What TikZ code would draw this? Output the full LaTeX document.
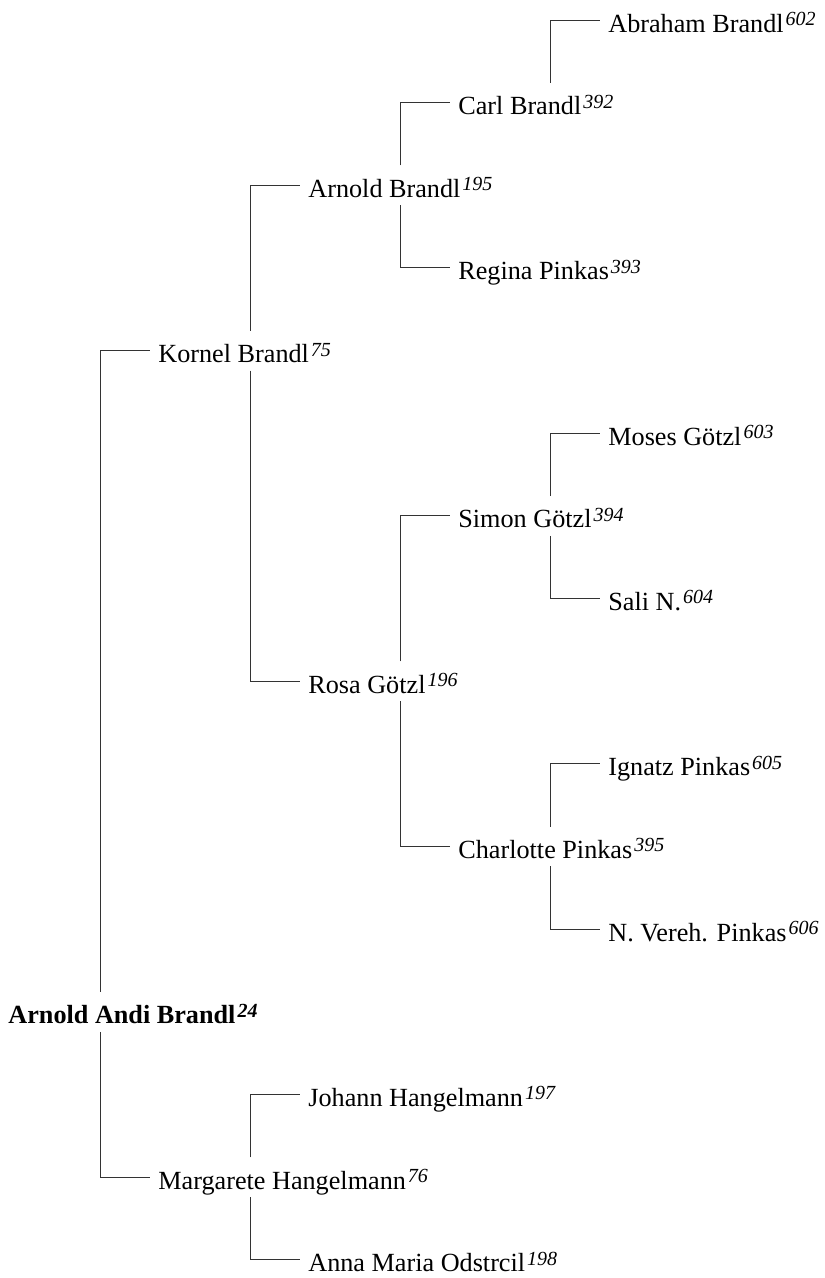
\documentclass[tikz,border=0pt]{standalone}
\usepackage{fontspec}
\setmainfont{Liberation Serif}
\newcommand{\pnum}[1]{\kern1pt\raisebox{3.3pt}{\fontsize{10}{10}\selectfont\itshape #1}}

\begin{document}
\begin{tikzpicture}[x=75pt, y=-41.33pt]
\useasboundingbox (0,-0.242) rectangle (5.5,15.22);

\tikzset{every node/.style={anchor=west, inner xsep=4pt, inner ysep=0pt, text height=15.75pt, text depth=3.75pt, font=\fontsize{13.1}{16}\selectfont}}
\node (p24) at (0,12) {\bfseries Arnold Andi Brandl\pnum{24}};
\node (p75) at (1,4) {Kornel Brandl\pnum{75}};
\node (p76) at (1,14) {Margarete Hangelmann\pnum{76}};
\node (p195) at (2,2) {Arnold Brandl\pnum{195}};
\node (p196) at (2,8) {Rosa Götzl\pnum{196}};
\node (p197) at (2,13) {Johann Hangelmann\pnum{197}};
\node (p198) at (2,15) {Anna Maria Odstrcil\pnum{198}};
\node (p392) at (3,1) {Carl Brandl\pnum{392}};
\node (p393) at (3,3) {Regina Pinkas\pnum{393}};
\node (p394) at (3,6) {Simon Götzl\pnum{394}};
\node (p395) at (3,10) {Charlotte Pinkas\pnum{395}};
\node (p602) at (4,0) {Abraham Brandl\pnum{602}};
\node (p603) at (4,5) {Moses Götzl\pnum{603}};
\node (p604) at (4,7) {Sali N.\pnum{604}};
\node (p605) at (4,9) {Ignatz Pinkas\pnum{605}};
\node (p606) at (4,11) {N. Vereh. Pinkas\pnum{606}};

\tikzset{every node/.style={}};
\tikzset{link/.style={line width=0.5pt, black!80, to path={|- (\tikztotarget)}}};
\path ([xshift=50.5pt]p24.north west) edge [link] (p75.west);
\path ([xshift=50.5pt]p24.south west) edge [link] (p76.west);
\path ([xshift=50.5pt]p75.north west) edge [link] (p195.west);
\path ([xshift=50.5pt]p75.south west) edge [link] (p196.west);
\path ([xshift=50.5pt]p76.north west) edge [link] (p197.west);
\path ([xshift=50.5pt]p76.south west) edge [link] (p198.west);
\path ([xshift=50.5pt]p195.north west) edge [link] (p392.west);
\path ([xshift=50.5pt]p195.south west) edge [link] (p393.west);
\path ([xshift=50.5pt]p196.north west) edge [link] (p394.west);
\path ([xshift=50.5pt]p196.south west) edge [link] (p395.west);
\path ([xshift=50.5pt]p392.north west) edge [link] (p602.west);
\path ([xshift=50.5pt]p394.north west) edge [link] (p603.west);
\path ([xshift=50.5pt]p394.south west) edge [link] (p604.west);
\path ([xshift=50.5pt]p395.north west) edge [link] (p605.west);
\path ([xshift=50.5pt]p395.south west) edge [link] (p606.west);
\end{tikzpicture}
\end{document}
